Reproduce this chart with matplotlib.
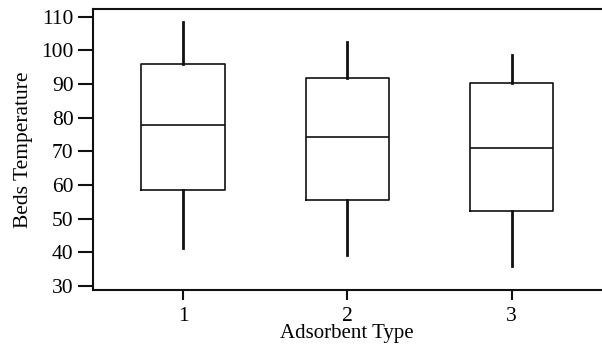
import matplotlib
matplotlib.use("Agg")
import matplotlib.pyplot as plt

categories = ["1", "2", "3"]
q1 = [58.4, 55.4, 52.3]
medians = [77.7, 74.3, 71.0]
q3 = [95.9, 91.8, 90.2]
whislo = [41.2, 39.2, 35.9]
whishi = [108.5, 102.5, 98.6]
yticks = [30, 40, 50, 60, 70, 80, 90, 100, 110]

plt.rcParams['font.family'] = ['Liberation Serif', 'DejaVu Serif']

fig = plt.figure(figsize=(6.02, 3.45), dpi=100)
ax = fig.add_axes([93/602, 55/345, 508/602, 281/345])

stats = []
for i, c in enumerate(categories):
    stats.append(dict(label=c, q1=q1[i], med=medians[i], q3=q3[i],
                      whislo=whislo[i], whishi=whishi[i], fliers=[]))

positions = list(range(1, len(categories) + 1))
ax.bxp(stats, positions=positions, widths=0.51, showcaps=False,
       boxprops=dict(color='#111111', linewidth=1.2),
       medianprops=dict(color='#111111', linewidth=1.2),
       whiskerprops=dict(color='#111111', linewidth=2.0))

ax.set_xlim(0.45, 3.545)
ax.set_ylim(28.8, 112.3)
ax.set_yticks(yticks)
ax.set_xticks(positions)
ax.set_xticklabels(categories)
ax.tick_params(axis='y', direction='out', length=11, width=1.5, labelsize=15.5, pad=3, color='#111111')
ax.tick_params(axis='x', direction='out', length=7, width=1.5, labelsize=15.5, pad=5, color='#111111')
for s in ax.spines.values():
    s.set_linewidth(1.5)
    s.set_color('#111111')
ax.spines['right'].set_visible(False)

ax.set_xlabel('Adsorbent Type', fontsize=15, labelpad=-1)
ax.set_ylabel('Beds Temperature', fontsize=15.5, labelpad=6)

fig.savefig('out.png', dpi=100)
